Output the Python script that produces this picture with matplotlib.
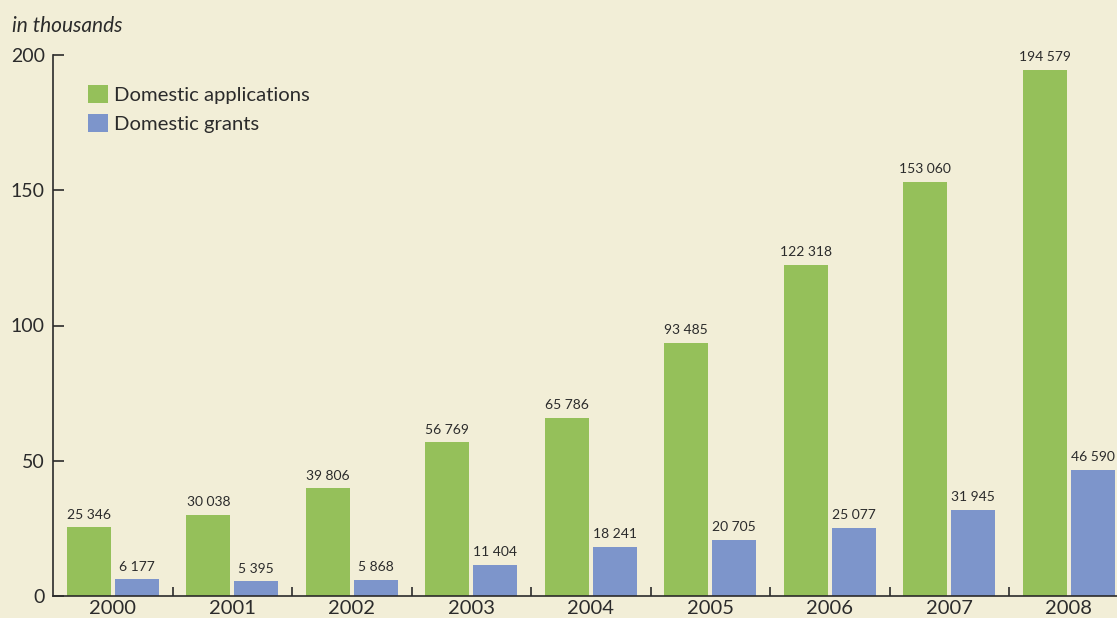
import matplotlib
matplotlib.use("Agg")
import matplotlib.pyplot as plt
from matplotlib.patches import Patch
import numpy as np

years = ["2000", "2001", "2002", "2003", "2004", "2005", "2006", "2007", "2008"]
applications = [25346, 30038, 39806, 56769, 65786, 93485, 122318, 153060, 194579]
grants = [6177, 5395, 5868, 11404, 18241, 20705, 25077, 31945, 46590]

bg = "#f2eed7"
green = "#95c05a"
blue = "#7d95cb"
dark = "#2b2b2b"

plt.rcParams['font.family'] = ['Lato', 'DejaVu Sans']

fig = plt.figure(figsize=(11.17, 6.18), dpi=100, facecolor=bg)
ax = fig.add_axes([53/1117, 22/618, 1075.5/1117, 541/618])
ax.set_facecolor(bg)

x = np.arange(len(years))
w = 0.368
off = 0.2
ax.bar(x - off, np.array(applications)/1000, w, color=green, zorder=2)
ax.bar(x + off, np.array(grants)/1000, w, color=blue, zorder=2)

def fmt(v):
    return "{:,}".format(v).replace(",", " ")

for i in range(len(years)):
    ax.text(x[i] - off, applications[i]/1000 + 2.5, fmt(applications[i]),
            ha="center", va="bottom", fontsize=10, color=dark)
    ax.text(x[i] + off, grants[i]/1000 + 2.5, fmt(grants[i]),
            ha="center", va="bottom", fontsize=10, color=dark)

ax.set_xlim(-0.5, 8.5)
ax.set_ylim(0, 200)
ax.set_yticks([0, 50, 100, 150, 200])
ax.set_xticks(x)
ax.set_xticklabels(years)
ax.set_xticks(np.arange(0.5, 8.5, 1), minor=True)

ax.tick_params(axis="y", direction="in", length=8, width=1.2, color=dark,
               labelsize=14, labelcolor=dark, pad=6)
ax.tick_params(axis="x", which="major", length=0, labelsize=14.5, labelcolor=dark, pad=3)
ax.tick_params(axis="x", which="minor", direction="in", length=6.5, width=1.2, color=dark)

for s in ["top", "right"]:
    ax.spines[s].set_visible(False)
for s in ["left", "bottom"]:
    ax.spines[s].set_color(dark)
    ax.spines[s].set_linewidth(1.2)
    ax.spines[s].set_zorder(3)

fig.text(12/1117, 1 - 26/618, "in thousands", fontsize=15, style="italic",
         color=dark, va="center", ha="left")

handles = [Patch(facecolor=green, edgecolor="none"), Patch(facecolor=blue, edgecolor="none")]
ax.legend(handles, ["Domestic applications", "Domestic grants"],
          loc="upper left", bbox_to_anchor=(0.0325, 0.945), frameon=False,
          fontsize=14.6, handlelength=1.0, handleheight=1.0, handletextpad=0.3,
          labelspacing=0.5, borderpad=0, borderaxespad=0, labelcolor=dark)

fig.savefig("out.png", dpi=100, facecolor=bg)
